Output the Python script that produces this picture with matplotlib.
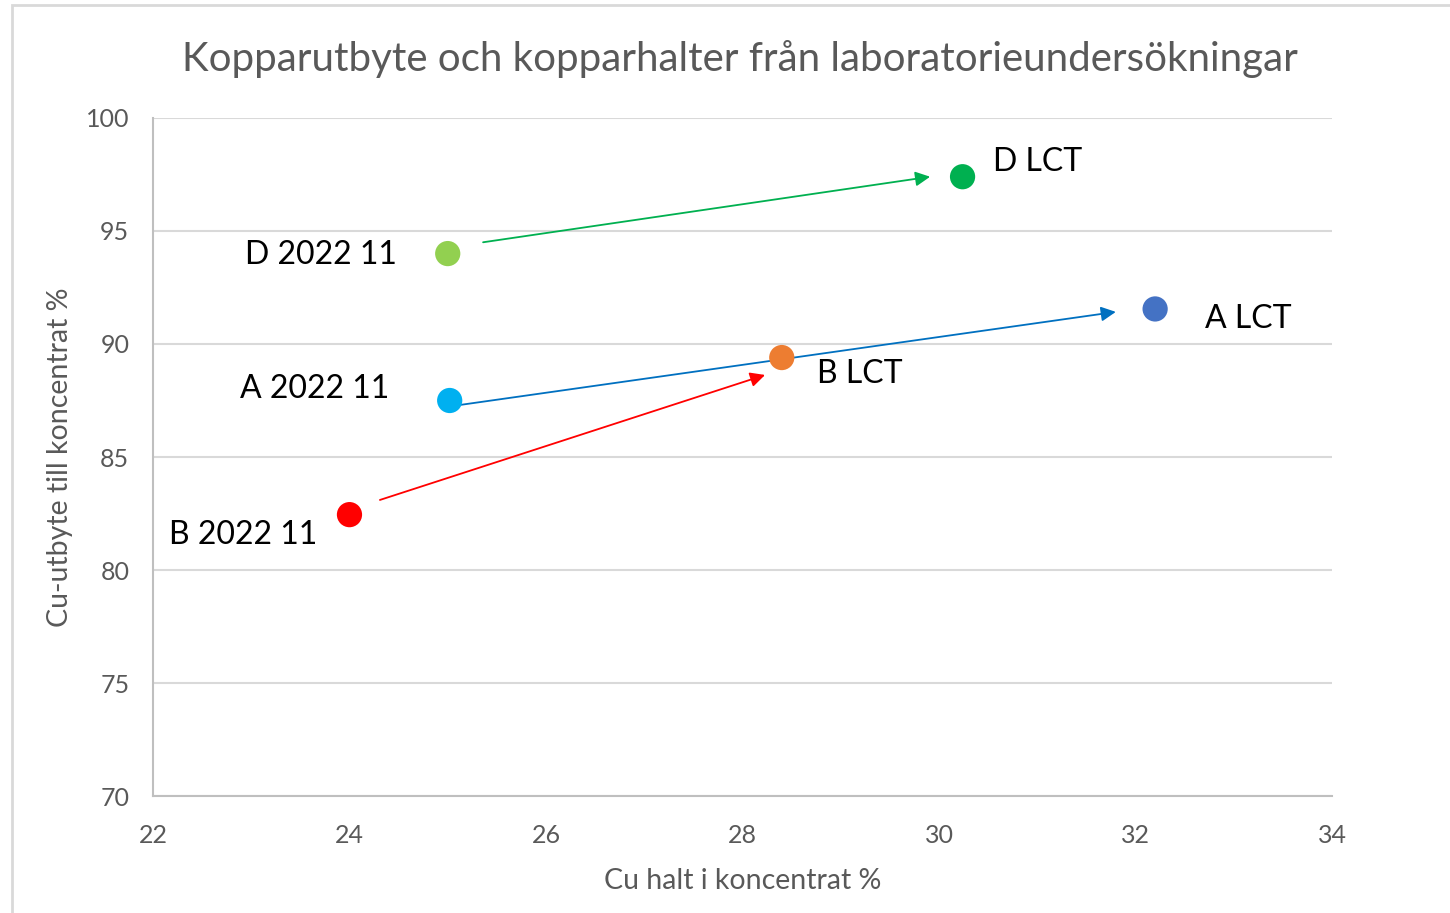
import matplotlib.pyplot as plt
from matplotlib.patches import Rectangle

plt.rcParams['font.family'] = ['Lato', 'DejaVu Sans']

names = ['D 2022 11', 'D LCT', 'A 2022 11', 'A LCT', 'B 2022 11', 'B LCT']
cu_halt = [25.0, 30.24, 25.02, 32.2, 24.0, 28.4]
cu_utbyte = [94.0, 97.4, 87.5, 91.55, 82.45, 89.4]
colors = ['#92D050', '#00B050', '#00B0F0', '#4472C4', '#FF0000', '#ED7D31']

# label placement (offset in pixels from the point, alignment)
label_offsets = [(-51, -1, 'right'), (30, 15, 'left'), (-60, 11, 'right'),
                 (50, -10, 'left'), (-32, -20, 'right'), (35, -16, 'left')]

# arrows drawn on the chart (start -> end, data coords)
arrow_start = [(25.36, 94.5), (25.12, 87.3), (24.31, 83.1)]
arrow_end = [(29.91, 97.4), (31.8, 91.42), (28.23, 88.63)]
arrow_colors = ['#00B050', '#0070C0', '#FF0000']

fig = plt.figure(figsize=(14.5, 9.13), dpi=100)
ax = fig.add_axes([0.1055, 0.1281, 0.8131, 0.7427])

ax.set_xlim(22, 34)
ax.set_ylim(70, 100)
ax.set_xticks(range(22, 35, 2))
ax.set_yticks(range(70, 101, 5))
ax.grid(axis='y', color='#D9D9D9', lw=1.5)
ax.set_axisbelow(True)
for s in ['top', 'right']:
    ax.spines[s].set_visible(False)
for s in ['left', 'bottom']:
    ax.spines[s].set_color('#BFBFBF')
    ax.spines[s].set_linewidth(1.5)
ax.tick_params(length=0, labelsize=18, labelcolor='#595959')
ax.tick_params(axis='y', pad=17)
ax.tick_params(axis='x', pad=20)

for (x0, y0), (x1, y1), c in zip(arrow_start, arrow_end, arrow_colors):
    ax.annotate('', xy=(x1, y1), xytext=(x0, y0),
                arrowprops=dict(arrowstyle='-|>', color=c, lw=1.3,
                                mutation_scale=22, shrinkA=0, shrinkB=0))

ax.scatter(cu_halt, cu_utbyte, s=330, c=colors, zorder=3, linewidths=0)

for n, x, y, (dx, dy, ha) in zip(names, cu_halt, cu_utbyte, label_offsets):
    ax.annotate(n, (x, y), xytext=(dx, dy), textcoords='offset pixels',
                ha=ha, va='center', fontsize=23, color='black')

ax.set_xlabel('Cu halt i koncentrat %', fontsize=20.5, color='#595959', labelpad=15)
ax.set_ylabel('Cu-utbyte till koncentrat %', fontsize=20.5, color='#595959', labelpad=9)
fig.text(0.51, 0.935, 'Kopparutbyte och kopparhalter från laboratorieundersökningar',
         ha='center', va='center', fontsize=29, color='#595959')

fig.patches.append(Rectangle((0.008, -0.1), 1.1, 1.094, transform=fig.transFigure,
                             fill=False, ec='#D9D9D9', lw=2))

fig.savefig('out.png', dpi=100)
